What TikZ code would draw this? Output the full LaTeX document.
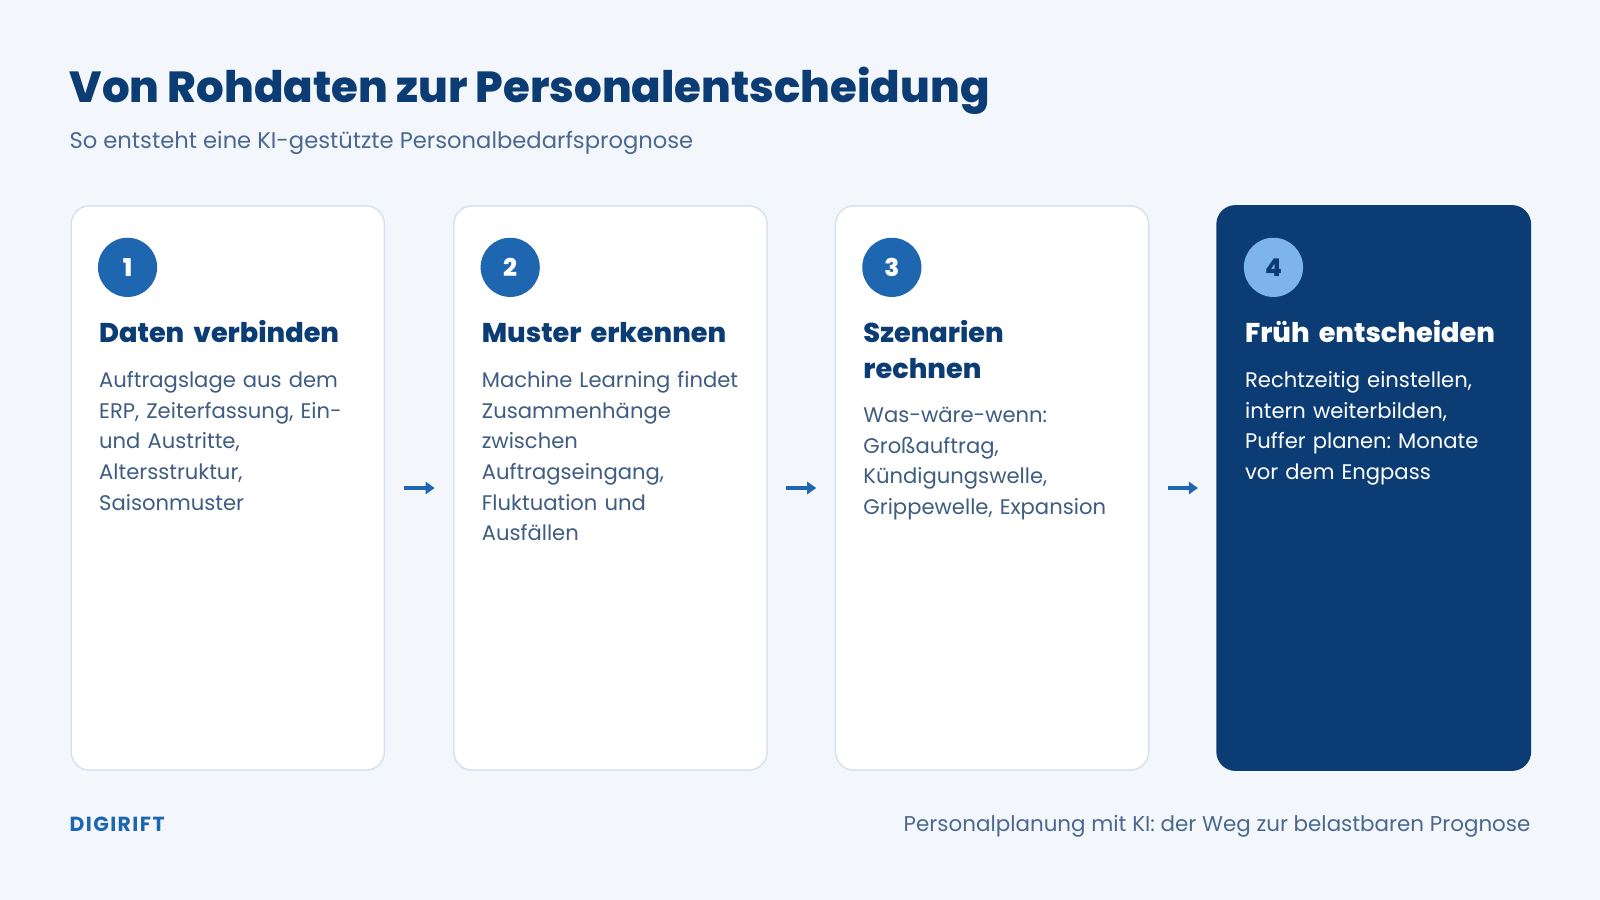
\documentclass[tikz,border=0pt]{standalone}
\usepackage{fontspec}
\setmainfont{Poppins}
\newfontfamily\heavyfont{Poppins ExtraBold}
\usetikzlibrary{arrows.meta,positioning}
\definecolor{bgpage}{HTML}{F3F7FB}
\definecolor{navy}{HTML}{0B3C73}
\definecolor{stepblue}{HTML}{1E66B0}
\definecolor{lightstep}{HTML}{7DB5EA}
\definecolor{bodygray}{HTML}{3F5C82}
\definecolor{subgray}{HTML}{4B6890}
\definecolor{cardline}{HTML}{D5E3F1}
\frenchspacing
\begin{document}
\begin{tikzpicture}[x = 1pt, y = -1pt,
	card/.style = {draw = cardline, line width = 1.5pt, fill = white, rounded corners = 18pt,
		minimum width = 307pt, minimum height = 553pt, anchor = north west, inner sep = 0pt},
	numdot/.style = {circle, fill = stepblue, text = white, minimum size = 58pt, inner sep = 0pt,
		font = \fontsize{24}{24}\selectfont\heavyfont},
	headline/.style = {anchor = base west, inner sep = 0pt, text width = 280pt, align = left,
		text = navy, font = \fontsize{26.6}{35}\selectfont\heavyfont},
	bodytext/.style = {anchor = base west, inner sep = 0pt, text width = 275pt, align = left,
		text = bodygray, font = \fontsize{20.7}{30}\selectfont},
	flow/.style = {-{Triangle[length = 9pt, width = 12pt]}, line width = 3pt, draw = stepblue,
		shorten < = 18pt, shorten > = 18pt}]
	% page
	\fill[bgpage] (0,0) rectangle (1568,882);
	\node[anchor = base west, inner sep = 0pt, text = navy, font = \fontsize{42.6}{42}\selectfont\heavyfont]
		(title) at (68,100) {Von Rohdaten zur Personalentscheidung};
	\node[anchor = base west, inner sep = 0pt, text = subgray, font = \fontsize{22.2}{22}\selectfont]
		(subtitle) at (68,146) {So entsteht eine KI-gestützte Personalbedarfsprognose};
	% cards
	\node[card] (card1) at (69,201) {};
	\node[card] (card2) at (444,201) {};
	\node[card] (card3) at (818,201) {};
	\node[card, draw = navy, fill = navy] (card4) at (1192,201) {};
	% step numbers
	\node[numdot] (num1) at ([xshift = 56pt, yshift = -61pt]card1.north west) {1};
	\node[numdot] (num2) at ([xshift = 56pt, yshift = -61pt]card2.north west) {2};
	\node[numdot] (num3) at ([xshift = 56pt, yshift = -61pt]card3.north west) {3};
	\node[numdot, fill = lightstep, text = navy] (num4) at ([xshift = 56pt, yshift = -61pt]card4.north west) {4};
	% headings
	\node[headline] (head1) at ([xshift = 28pt, yshift = -135pt]card1.north west) {Daten verbinden};
	\node[headline] (head2) at ([xshift = 28pt, yshift = -135pt]card2.north west) {Muster erkennen};
	\node[headline] (head3) at ([xshift = 28pt, yshift = -135pt]card3.north west) {Szenarien\\rechnen};
	\node[headline, text = white] (head4) at ([xshift = 28pt, yshift = -135pt]card4.north west) {Früh entscheiden};
	% texts
	\node[bodytext] (body1) at ([xshift = 28pt, yshift = -179pt]card1.north west)
		{Auftragslage aus dem\\ERP, Zeiterfassung, Ein-\\und Austritte,\\Altersstruktur,\\Saisonmuster};
	\node[bodytext] (body2) at ([xshift = 28pt, yshift = -179pt]card2.north west)
		{Machine Learning findet\\Zusammenhänge\\zwischen\\Auftragseingang,\\Fluktuation und\\Ausfällen};
	\node[bodytext] (body3) at ([xshift = 28pt, yshift = -213pt]card3.north west)
		{Was-wäre-wenn:\\Großauftrag,\\Kündigungswelle,\\Grippewelle, Expansion};
	\node[bodytext, text = white] (body4) at ([xshift = 28pt, yshift = -179pt]card4.north west)
		{Rechtzeitig einstellen,\\intern weiterbilden,\\Puffer planen: Monate\\vor dem Engpass};
	% arrows
	\draw[flow] (card1.east) -- (card2.west);
	\draw[flow] (card2.east) -- (card3.west);
	\draw[flow] (card3.east) -- (card4.west);
	% footer
	\node[anchor = base west, inner sep = 0pt, text = stepblue, font = \fontsize{20}{20}\selectfont\bfseries\addfontfeature{LetterSpace = 7}]
		(brand) at (68,815) {DIGIRIFT};
	\node[anchor = base east, inner sep = 0pt, text = subgray, font = \fontsize{21}{21}\selectfont]
		(caption) at (1500,815) {Personalplanung mit KI: der Weg zur belastbaren Prognose};
\end{tikzpicture}
\end{document}
